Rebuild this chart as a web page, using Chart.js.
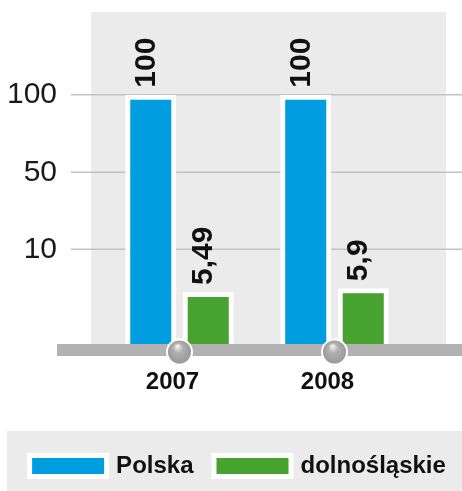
<!DOCTYPE html>
<html><head><meta charset="utf-8">
<script src="https://cdn.jsdelivr.net/npm/chart.js@4/dist/chart.umd.min.js"></script>
<style>html,body{margin:0;padding:0;background:#fff;overflow:hidden}canvas{display:block}</style>
</head><body>
<canvas id="c" width="462" height="491"></canvas>
<script>
const categories = ['2007', '2008'];
const seriesNames = ['Polska', 'dolnośląskie'];
const polskaValues = [100, 100];
const dolnoslaskieValues = [5.49, 5.9];
const polskaLabels = ['100', '100'];
const dolnoslaskieLabels = ['5,49', '5,9'];
const yTickValues = [10, 50, 100];

const BLUE = '#009ee0', GREEN = '#48a22f';
const FONT = "'Liberation Sans', Arial, sans-serif";

// Non-linear (piecewise) axis of the original: equal spacing 10→50→100, larger 0→10
const SCALE_BREAKS = [0, 10, 50, 100, 153.3];
const SCALE_FRACS  = [0, 0.2852, 0.5172, 0.7509, 1];

class PiecewiseScale extends Chart.LinearScale {
  buildTicks() {
    this.start = this.min; this.end = this.max;
    return yTickValues.map(v => ({ value: v }));
  }
  _frac(v) {
    const b = SCALE_BREAKS, f = SCALE_FRACS;
    for (let i = 1; i < b.length; i++) {
      if (v <= b[i] || i === b.length - 1) {
        return f[i - 1] + (v - b[i - 1]) / (b[i] - b[i - 1]) * (f[i] - f[i - 1]);
      }
    }
    return 0;
  }
  getPixelForValue(v) { return this.bottom - this._frac(v) * (this.bottom - this.top); }
  getValueForPixel(p) {
    const fr = (this.bottom - p) / (this.bottom - this.top);
    const b = SCALE_BREAKS, f = SCALE_FRACS;
    for (let i = 1; i < f.length; i++) {
      if (fr <= f[i] || i === f.length - 1) {
        return b[i - 1] + (fr - f[i - 1]) / (f[i] - f[i - 1]) * (b[i] - b[i - 1]);
      }
    }
    return 0;
  }
  getPadding() { return { left: 0, top: 0, right: 0, bottom: 0 }; }
}
PiecewiseScale.id = 'piecewise';
PiecewiseScale.defaults = { ticks: { callback: v => String(v) } };
Chart.register(PiecewiseScale);

const decorPlugin = {
  id: 'decor',
  beforeDraw(chart) {
    const ctx = chart.ctx, a = chart.chartArea;
    ctx.save();
    ctx.fillStyle = '#ebebeb';
    ctx.fillRect(a.left - 11, a.top, (a.right + 34) - (a.left - 11), a.bottom - a.top);
    // legend background
    ctx.fillRect(7, 431, 455, 60);
    ctx.restore();
  },
  beforeDatasetsDraw(chart) {
    const ctx = chart.ctx, y = chart.scales.y;
    ctx.save();
    ctx.strokeStyle = '#c2c2c2';
    ctx.lineWidth = 1.5;
    y.ticks.forEach(t => {
      const py = y.getPixelForValue(t.value);
      ctx.beginPath(); ctx.moveTo(71, py); ctx.lineTo(462, py); ctx.stroke();
    });
    ctx.restore();
  },
  afterDatasetsDraw(chart) {
    const ctx = chart.ctx, a = chart.chartArea, x = chart.scales.x;
    ctx.save();
    // baseline band
    ctx.fillStyle = '#b2b2b2';
    ctx.fillRect(57, a.bottom, 462 - 57, 12);
    // knobs at category centres
    categories.forEach((c, i) => {
      const cx = x.getPixelForTick(i), cy = a.bottom + 8;
      ctx.beginPath(); ctx.arc(cx, cy, 13.5, 0, Math.PI * 2); ctx.fillStyle = '#ffffff'; ctx.fill();
      const g = ctx.createRadialGradient(cx - 2, cy - 6, 1, cx, cy, 12);
      g.addColorStop(0, '#eeeeee'); g.addColorStop(0.35, '#b0b0b0'); g.addColorStop(1, '#989898');
      ctx.beginPath(); ctx.arc(cx, cy, 11.5, 0, Math.PI * 2); ctx.fillStyle = g; ctx.fill();
    });
    // value labels (rotated)
    const labelSets = [polskaLabels, dolnoslaskieLabels];
    ctx.fillStyle = '#111';
    ctx.font = 'bold 30px ' + FONT;
    ctx.textAlign = 'left';
    ctx.textBaseline = 'middle';
    chart.data.datasets.forEach((ds, di) => {
      chart.getDatasetMeta(di).data.forEach((el, i) => {
        ctx.save();
        ctx.translate(el.x - 4.5, el.y - 7);
        ctx.rotate(-Math.PI / 2);
        ctx.fillText(labelSets[di][i], 0, 0);
        ctx.restore();
      });
    });
    ctx.restore();
  },
  afterDraw(chart) {
    const ctx = chart.ctx;
    ctx.save();
    ctx.font = 'bold 24px ' + FONT;
    ctx.textBaseline = 'middle';
    ctx.textAlign = 'left';
    const items = chart.data.datasets.map(ds => ({ label: ds.label, color: ds.backgroundColor, w: ctx.measureText(ds.label).width }));
    const boxW = 82, boxH = 26, gapText = 7, gapItem = 18;
    let total = 0;
    items.forEach((it, i) => { total += boxW + gapText + it.w + (i ? gapItem : 0); });
    let x0 = 236.5 - total / 2;
    const yc = 466;
    items.forEach(it => {
      ctx.fillStyle = '#ffffff';
      ctx.fillRect(x0, yc - boxH / 2, boxW, boxH);
      ctx.fillStyle = it.color;
      ctx.fillRect(x0 + 5, yc - boxH / 2 + 5, boxW - 10, boxH - 10);
      ctx.fillStyle = '#111';
      ctx.fillText(it.label, x0 + boxW + gapText, yc);
      x0 += boxW + gapText + it.w + gapItem;
    });
    ctx.restore();
  }
};

new Chart(document.getElementById('c'), {
  type: 'bar',
  data: {
    labels: categories,
    datasets: [
      { label: seriesNames[0], data: polskaValues, backgroundColor: BLUE, borderColor: '#ffffff', borderWidth: 5 },
      { label: seriesNames[1], data: dolnoslaskieValues, backgroundColor: GREEN, borderColor: '#ffffff', borderWidth: 5 }
    ]
  },
  options: {
    responsive: false,
    devicePixelRatio: 1,
    animation: false,
    categoryPercentage: 0.742,
    barPercentage: 0.887,
    layout: { autoPadding: false, padding: { left: 0, right: 50, top: 12, bottom: 87 } },
    plugins: { legend: { display: false }, tooltip: { enabled: false } },
    scales: {
      x: {
        type: 'category',
        offset: true,
        grid: { display: false },
        border: { display: false },
        ticks: { font: { family: FONT, size: 24, weight: 'bold' }, color: '#111', padding: 16, labelOffset: -7, maxRotation: 0, autoSkip: false },
        afterFit(s) { s.height = 60; s.paddingLeft = 0; s.paddingRight = 0; }
      },
      y: {
        type: 'piecewise',
        min: 0,
        max: 153.3,
        grid: { display: false },
        border: { display: false },
        ticks: { font: { family: FONT, size: 30 }, color: '#1a1a1a', padding: 37, callback: v => String(v) },
        afterFit(s) { s.width = 102; s.paddingTop = 0; s.paddingBottom = 0; }
      }
    }
  },
  plugins: [decorPlugin]
});
</script>
</body></html>
